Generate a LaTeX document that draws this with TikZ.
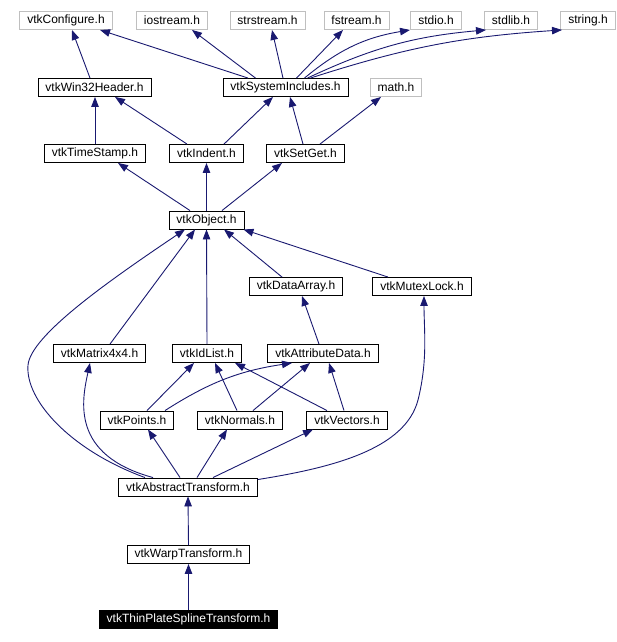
\documentclass[tikz,border=0pt]{standalone}
\usepackage{fontspec}
\setmainfont{Liberation Sans}
\definecolor{incblue}{HTML}{191970}
\definecolor{sysgray}{HTML}{BFBFBF}
\usetikzlibrary{arrows.meta}

\begin{document}
\begin{tikzpicture}[
  x=1pt, y=-1pt,
  hdr/.style={draw, line width=0.9pt, minimum height=18pt, inner xsep=7.5pt, inner ysep=0pt,
              font=\fontsize{12}{14}\selectfont},
  sysbox/.style={hdr, draw=sysgray},
  focus/.style={hdr, fill=black, text=white},
  inc/.style={-{Triangle[length=10pt, width=7.5pt]}, line width=0.9pt, incblue},
]
  \useasboundingbox (0,0) rectangle (617,642);

  % system headers
  \node[sysbox] (config)    at (66,20.5)   {vtkConfigure.h};
  \node[sysbox] (iostream)  at (172,20.5)  {iostream.h};
  \node[sysbox] (strstream) at (267.5,20.5) {strstream.h};
  \node[sysbox] (fstream)   at (356.5,20.5) {fstream.h};
  \node[sysbox] (stdio)     at (436,20.5)  {stdio.h};
  \node[sysbox] (stdlib)    at (511,20.5)  {stdlib.h};
  \node[sysbox] (string)    at (588,20.5)  {string.h};
  \node[sysbox] (math)      at (396,87.5)  {math.h};

  % vtk headers
  \node[hdr] (win32)     at (94.5,87.5)  {vtkWin32Header.h};
  \node[hdr] (sysinc)    at (285.5,87.5) {vtkSystemIncludes.h};
  \node[hdr] (timestamp) at (95,153.5)   {vtkTimeStamp.h};
  \node[hdr] (indent)    at (206.5,153.5) {vtkIndent.h};
  \node[hdr] (setget)    at (305.5,153.5) {vtkSetGet.h};
  \node[hdr] (object)    at (206.5,220)  {vtkObject.h};
  \node[hdr] (dataarray) at (296,286.5)  {vtkDataArray.h};
  \node[hdr] (mutex)     at (422,286.5)  {vtkMutexLock.h};
  \node[hdr] (matrix)    at (99.5,353.5) {vtkMatrix4x4.h};
  \node[hdr] (idlist)    at (207,353.5)  {vtkIdList.h};
  \node[hdr] (attrdata)  at (323,353.5)  {vtkAttributeData.h};
  \node[hdr] (points)    at (137,420)    {vtkPoints.h};
  \node[hdr] (normals)   at (240,420)    {vtkNormals.h};
  \node[hdr] (vectors)   at (347,420)    {vtkVectors.h};
  \node[hdr] (abstract)  at (188,487)    {vtkAbstractTransform.h};
  \node[hdr] (warp)      at (188.5,554.5) {vtkWarpTransform.h};
  \node[focus] (thinplate) at (188.5,619.5) {vtkThinPlateSplineTransform.h};

  % includes of the top rows
  \draw[inc] ([xshift=-4.5pt]win32.north) -- ([xshift=6pt]config.south);
  \draw[inc] ([xshift=-37.5pt]sysinc.north) -- ([xshift=34pt]config.south);
  \draw[inc] ([xshift=-30pt]sysinc.north) -- ([xshift=20pt]iostream.south);
  \draw[inc] ([xshift=-2.5pt]sysinc.north) -- ([xshift=4.5pt]strstream.south);
  \draw[inc] ([xshift=11pt]sysinc.north) -- ([xshift=-13.5pt]fstream.south);
  \draw[inc] ([xshift=19pt]sysinc.north) to[bend left=15] ([xshift=-26pt]stdio.south);
  \draw[inc] ([xshift=22pt]sysinc.north) to[bend left=10] ([xshift=-25pt]stdlib.south);
  \draw[inc] ([xshift=25pt]sysinc.north) to[bend left=7] ([xshift=-26pt]string.south);

  \draw[inc] (timestamp.north) -- (timestamp.north |- win32.south);
  \draw[inc] ([xshift=-19.5pt]indent.north) -- ([xshift=20.5pt]win32.south);
  \draw[inc] ([xshift=17.5pt]indent.north) -- ([xshift=-12.5pt]sysinc.south);
  \draw[inc] ([xshift=-2.5pt]setget.north) -- ([xshift=4.5pt]sysinc.south);
  \draw[inc] ([xshift=14.5pt]setget.north) -- ([xshift=-15pt]math.south);

  % vtkObject
  \draw[inc] ([xshift=-16.5pt]object.north) -- ([xshift=23pt]timestamp.south);
  \draw[inc] (object.north) -- (indent.south);
  \draw[inc] ([xshift=15.5pt]object.north) -- ([xshift=-23.5pt]setget.south);
  \draw[inc] ([xshift=-14pt]dataarray.north) -- ([xshift=17.5pt]object.south);
  \draw[inc] ([xshift=-34pt]mutex.north) -- ([xshift=-1pt]object.south east);
  \draw[inc] ([xshift=10.5pt]matrix.north) -- ([xshift=-11.5pt]object.south);
  \draw[inc] (idlist.north) -- (object.south);
  \draw[inc] ([xshift=-43pt]abstract.north) .. controls (70,450) and (25,400) .. (28,365)
    .. controls (31,335) and (110,280) .. ([xshift=-21.5pt]object.south);

  % data objects
  \draw[inc] ([xshift=-4pt]attrdata.north) -- ([xshift=6pt]dataarray.south);
  \draw[inc] ([xshift=10pt]points.north) -- ([xshift=-13pt]idlist.south);
  \draw[inc] ([xshift=28pt]points.north) to[bend left=12] ([xshift=-31pt]attrdata.south);
  \draw[inc] ([xshift=-3pt]normals.north) -- ([xshift=8pt]idlist.south);
  \draw[inc] ([xshift=13pt]normals.north) -- ([xshift=-13pt]attrdata.south);
  \draw[inc] ([xshift=-20pt]vectors.north) -- ([xshift=28pt]idlist.south);
  \draw[inc] ([xshift=-3pt]vectors.north) -- ([xshift=6pt]attrdata.south);

  % vtkAbstractTransform
  \draw[inc] ([xshift=-35pt]abstract.north) .. controls (70,455) and (82,400)
    .. ([xshift=-9.5pt]matrix.south);
  \draw[inc] ([xshift=-8pt]abstract.north) -- ([xshift=11pt]points.south);
  \draw[inc] ([xshift=9pt]abstract.north) -- ([xshift=-13pt]normals.south);
  \draw[inc] ([xshift=25pt]abstract.north) -- ([xshift=-34pt]vectors.south);
  \draw[inc] ([yshift=-2pt]abstract.north east) .. controls (330,468) and (405,450) .. (418,400)
    .. controls (428,360) and (424,330) .. ([xshift=2pt]mutex.south);
  \draw[inc] (warp.north) -- (abstract.south);
  \draw[inc] (thinplate.north) -- (warp.south);
\end{tikzpicture}
\end{document}
